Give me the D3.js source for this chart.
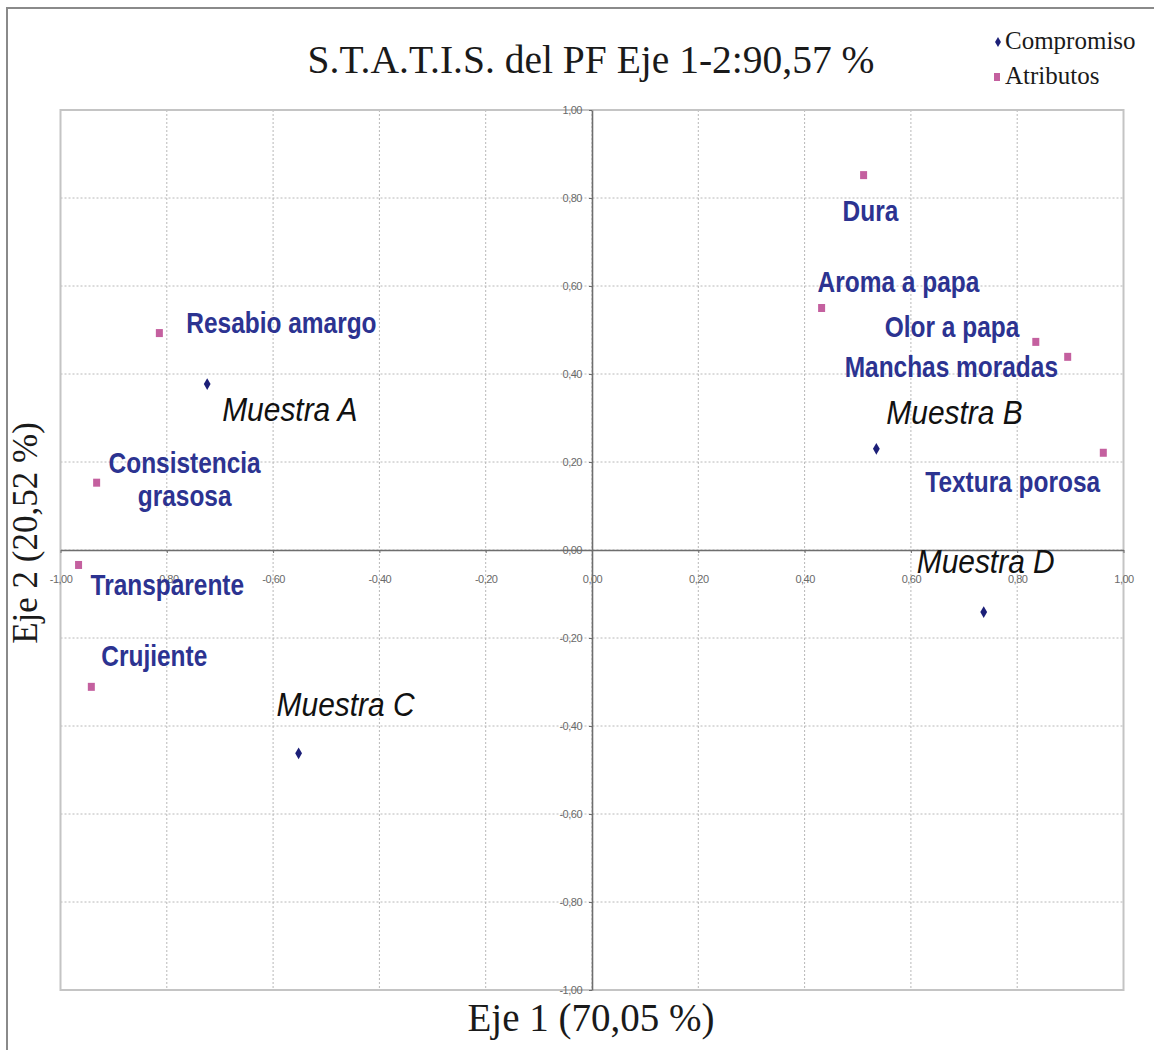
<!DOCTYPE html>
<html>
<head>
<meta charset="utf-8">
<script src="https://cdn.jsdelivr.net/npm/d3@7"></script>
<style>
  body { margin: 0; background: #fff; }
  svg { display: block; }
</style>
</head>
<body>
<div id="chart"></div>
<script>
// data
const muestras = ["Muestra A", "Muestra B", "Muestra C", "Muestra D"];
const muestraX = [-0.724, 0.535, -0.552, 0.737];
const muestraY = [0.377, 0.230, -0.462, -0.141];

const atributos = ["Resabio amargo", "Consistencia grasosa", "Transparente", "Crujiente",
                   "Dura", "Aroma a papa", "Olor a papa", "Manchas moradas", "Textura porosa"];
const atributoX = [-0.814, -0.932, -0.966, -0.942, 0.511, 0.432, 0.835, 0.895, 0.962];
const atributoY = [0.493, 0.153, -0.034, -0.311, 0.852, 0.550, 0.473, 0.439, 0.221];

const ticks = [-1, -0.8, -0.6, -0.4, -0.2, 0, 0.2, 0.4, 0.6, 0.8, 1];

// label placement (pixel offsets from the marker, as in the original sheet)
const labelOffset = {
  "Muestra A": [15, 37], "Muestra B": [10, -25], "Muestra C": [-22, -37], "Muestra D": [-67, -39],
  "Resabio amargo": [27, 0], "Consistencia grasosa": [88, -10], "Transparente": [12, 30],
  "Crujiente": [10, -21], "Dura": [-21, 46], "Aroma a papa": [-4, -16], "Olor a papa": [-151, -5],
  "Manchas moradas": [-223, 20], "Textura porosa": [-178, 39]
};

const W = 1154, H = 1050;
const svg = d3.select("#chart").append("svg")
  .attr("width", W).attr("height", H);

const x = d3.scaleLinear().domain([-1, 1]).range([60.5, 1123.5]);
const y = d3.scaleLinear().domain([-1, 1]).range([990, 110]);

const fmt = v => d3.format(".2f")(v).replace(".", ",").replace("−", "-");

// outer frame
svg.append("rect")
  .attr("x", 7).attr("y", 8).attr("width", W + 20).attr("height", H + 20)
  .attr("fill", "none").attr("stroke", "#8a8a8a").attr("stroke-width", 2);

// grid
const grid = svg.append("g");
grid.selectAll(".gx").data(ticks.slice(1, -1)).join("line")
  .attr("x1", d => x(d)).attr("x2", d => x(d))
  .attr("y1", y(1)).attr("y2", y(-1))
  .attr("stroke", "#b8b8b8").attr("stroke-dasharray", "2,2");
grid.selectAll(".gy").data(ticks.slice(1, -1)).join("line")
  .attr("y1", d => y(d)).attr("y2", d => y(d))
  .attr("x1", x(-1)).attr("x2", x(1))
  .attr("stroke", "#b8b8b8").attr("stroke-dasharray", "2,2");

// plot area border
svg.append("rect")
  .attr("x", x(-1)).attr("y", y(1))
  .attr("width", x(1) - x(-1)).attr("height", y(-1) - y(1))
  .attr("fill", "none").attr("stroke", "#c4c4c4").attr("stroke-width", 2);

// axes through the origin
const xAxis = svg.append("g")
  .attr("transform", `translate(0,${y(0)})`)
  .call(d3.axisBottom(x).tickValues(ticks).tickFormat(fmt).tickSizeInner(3).tickSizeOuter(0).tickPadding(22));
const yAxis = svg.append("g")
  .attr("transform", `translate(${x(0)},0)`)
  .call(d3.axisLeft(y).tickValues(ticks).tickFormat(fmt).tickSizeInner(3).tickSizeOuter(0).tickPadding(7));
[xAxis, yAxis].forEach(a => {
  a.select(".domain").attr("stroke", "#6e6e6e").attr("stroke-width", 1.6);
  a.selectAll(".tick line").attr("stroke", "#6e6e6e");
  a.selectAll(".tick text")
    .attr("fill", "#6a6a6a")
    .style("font-family", "'Liberation Sans Narrow', 'Liberation Sans', Arial, sans-serif")
    .style("font-size", "11px")
    .style("letter-spacing", "-0.5px");
});

// title and axis titles
svg.append("text")
  .attr("x", 591).attr("y", 73)
  .attr("text-anchor", "middle")
  .style("font-family", "'Liberation Serif', 'Times New Roman', serif")
  .style("font-size", "39.5px").attr("fill", "#1a1a1a")
  .text("S.T.A.T.I.S. del PF Eje 1-2:90,57 %");

svg.append("text")
  .attr("x", 591).attr("y", 1031)
  .attr("text-anchor", "middle")
  .style("font-family", "'Liberation Serif', 'Times New Roman', serif")
  .style("font-size", "39px").attr("fill", "#1a1a1a")
  .text("Eje 1 (70,05 %)");

svg.append("text")
  .attr("transform", "translate(37,533) rotate(-90)")
  .attr("text-anchor", "middle")
  .style("font-family", "'Liberation Serif', 'Times New Roman', serif")
  .style("font-size", "35px").attr("fill", "#1a1a1a")
  .text("Eje 2 (20,52 %)");

// markers
const diamond = d3.symbol().type(d3.symbolDiamond).size(40);
svg.append("g").selectAll("path")
  .data(muestras.map((m, i) => ({ name: m, x: muestraX[i], y: muestraY[i] })))
  .join("path")
  .attr("d", diamond)
  .attr("transform", d => `translate(${x(d.x)},${y(d.y)})`)
  .attr("fill", "#1c1f78");

svg.append("g").selectAll("rect")
  .data(atributos.map((a, i) => ({ name: a, x: atributoX[i], y: atributoY[i] })))
  .join("rect")
  .attr("x", d => x(d.x) - 3.5).attr("y", d => y(d.y) - 4)
  .attr("width", 7).attr("height", 8)
  .attr("fill", "#c4609f");

// labels
const sansStack = "'Liberation Sans', Arial, Helvetica, sans-serif";
const labAttr = svg.append("g");
atributos.forEach((a, i) => {
  const [dx, dy] = labelOffset[a];
  const g = labAttr.append("g")
    .attr("transform", `translate(${x(atributoX[i]) + dx},${y(atributoY[i]) + dy}) scale(0.815,1)`);
  const t = g.append("text")
    .style("font-family", sansStack).style("font-size", "30px").style("font-weight", "bold")
    .attr("fill", "#2c3391");
  if (a === "Consistencia grasosa") {
    t.attr("text-anchor", "middle");
    t.append("tspan").attr("x", 0).attr("y", 0).text("Consistencia");
    t.append("tspan").attr("x", 0).attr("y", 33).text("grasosa");
  } else {
    t.text(a);
  }
});

const labM = svg.append("g");
muestras.forEach((m, i) => {
  const [dx, dy] = labelOffset[m];
  labM.append("g")
    .attr("transform", `translate(${x(muestraX[i]) + dx},${y(muestraY[i]) + dy}) scale(0.88,1)`)
    .append("text")
    .style("font-family", sansStack).style("font-size", "34px").style("font-style", "italic")
    .attr("fill", "#111")
    .text(m);
});

// legend
const legend = svg.append("g");
legend.append("path")
  .attr("d", d3.symbol().type(d3.symbolDiamond).size(30))
  .attr("transform", "translate(998,42)")
  .attr("fill", "#1c1f78");
legend.append("rect")
  .attr("x", 994).attr("y", 73).attr("width", 6).attr("height", 8)
  .attr("fill", "#c4609f");
legend.selectAll("text").data(["Compromiso", "Atributos"]).join("text")
  .attr("x", 1005).attr("y", (d, i) => 49 + i * 35)
  .style("font-family", "'Liberation Serif', 'Times New Roman', serif")
  .style("font-size", "25px").attr("fill", "#1a1a1a")
  .text(d => d);
</script>
</body>
</html>
